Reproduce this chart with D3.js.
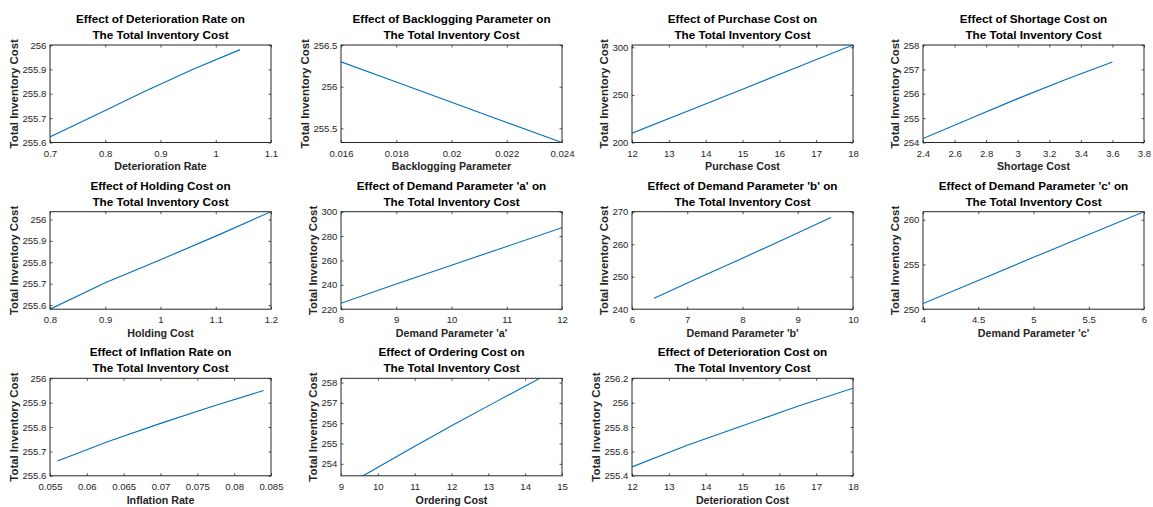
<!DOCTYPE html>
<html><head><meta charset="utf-8">
<script src="https://cdn.jsdelivr.net/npm/d3@7"></script>
<style>
body{margin:0;background:#fff;}
svg{display:block;font-family:"Liberation Sans",Arial,Helvetica,sans-serif;}
</style></head><body>
<svg id="chart" width="1153" height="507"></svg>
<script>
// ---- series values ----
const detRateX = [0.696, 0.783, 0.87, 0.957, 1.044];
const detRateY = [255.619, 255.713, 255.808, 255.898, 255.981];
const backlogX = [0.016, 0.018, 0.020, 0.022, 0.024];
const backlogY = [256.298, 256.055, 255.813, 255.571, 255.330];
const purchaseX = [12, 13.5, 15, 16.5, 18];
const purchaseY = [209.8, 232.9, 256.0, 279.2, 302.4];
const shortageX = [2.4, 2.7, 3.0, 3.3, 3.6];
const shortageY = [254.16, 254.98, 255.80, 256.57, 257.30];
const holdingX = [0.8, 0.9, 1.0, 1.1, 1.2];
const holdingY = [255.581, 255.704, 255.812, 255.922, 256.036];
const demandAX = [8, 9, 10, 11, 12];
const demandAY = [224.9, 240.6, 256.1, 271.5, 286.9];
const demandBX = [6.4, 7.2, 8.0, 8.8, 9.6];
const demandBY = [243.4, 249.6, 255.7, 261.9, 268.2];
const demandCX = [4, 4.5, 5, 5.5, 6];
const demandCY = [250.63, 253.2, 255.8, 258.35, 260.9];
const inflationX = [0.056, 0.063, 0.070, 0.077, 0.084];
const inflationY = [255.661, 255.742, 255.815, 255.884, 255.950];
const orderingX = [9.6, 10.8, 12.0, 13.2, 14.4];
const orderingY = [253.41, 254.66, 255.87, 257.05, 258.21];
const detCostX = [12, 13.5, 15, 16.5, 18];
const detCostY = [255.473, 255.65, 255.81, 255.97, 256.118];

// ---- categories / titles / labels ----
const titles = ["Effect of Deterioration Rate on", "Effect of Backlogging Parameter on", "Effect of Purchase Cost on", "Effect of Shortage Cost on",
  "Effect of Holding Cost on", "Effect of Demand Parameter 'a' on", "Effect of Demand Parameter 'b' on", "Effect of Demand Parameter 'c' on",
  "Effect of Inflation Rate on", "Effect of Ordering Cost on", "Effect of Deterioration Cost on"];
const titleLine2 = "The Total Inventory Cost";
const xLabels = ["Deterioration Rate", "Backlogging Parameter", "Purchase Cost", "Shortage Cost",
  "Holding Cost", "Demand Parameter 'a'", "Demand Parameter 'b'", "Demand Parameter 'c'",
  "Inflation Rate", "Ordering Cost", "Deterioration Cost"];
const yLabel = "Total Inventory Cost";

// ---- axis limits ----
const xLimits = [[0.7,1.1],[0.016,0.024],[12,18],[2.4,3.8],[0.8,1.2],[8,12],[6,10],[4,6],[0.055,0.085],[9,15],[12,18]];
const yLimits = [[255.6,256],[255.33,256.5],[200,302.4],[254,258],[255.581,256.036],[220,300],[240,270],[250,260.9],[255.6,256],[253.41,258.21],[255.4,256.2]];

// ---- tick labels ----
const xTicks = [
  [0.7,0.8,0.9,1,1.1],
  [0.016,0.018,0.02,0.022,0.024],
  [12,13,14,15,16,17,18],
  [2.4,2.6,2.8,3,3.2,3.4,3.6,3.8],
  [0.8,0.9,1,1.1,1.2],
  [8,9,10,11,12],
  [6,7,8,9,10],
  [4,4.5,5,5.5,6],
  [0.055,0.06,0.065,0.07,0.075,0.08,0.085],
  [9,10,11,12,13,14,15],
  [12,13,14,15,16,17,18]];
const yTicks = [
  [255.6,255.7,255.8,255.9,256],
  [255.5,256,256.5],
  [200,250,300],
  [254,255,256,257,258],
  [255.6,255.7,255.8,255.9,256],
  [220,240,260,280,300],
  [240,250,260,270],
  [250,255,260],
  [255.6,255.7,255.8,255.9,256],
  [254,255,256,257,258],
  [255.4,255.6,255.8,256,256.2]];

const seriesX = [detRateX, backlogX, purchaseX, shortageX, holdingX, demandAX, demandBX, demandCX, inflationX, orderingX, detCostX];
const seriesY = [detRateY, backlogY, purchaseY, shortageY, holdingY, demandAY, demandBY, demandCY, inflationY, orderingY, detCostY];

// ---- layout ----
const W = 221, H = 97.5;
const colX = [50, 341, 632, 923];
const rowY = [45, 211.7, 378.3];
const axisColor = "#262626";
const tickLen = 2.5;
const fmt = d => String(+d.toFixed(6));

const svg = d3.select("#chart");
svg.append("rect").attr("width",1153).attr("height",507).attr("fill","#fff");

titles.forEach((t, i) => {
  const c = i % 4, r = Math.floor(i / 4);
  const g = svg.append("g").attr("transform", `translate(${colX[c]},${rowY[r]})`);
  const x = d3.scaleLinear().domain(xLimits[i]).range([0, W]);
  const y = d3.scaleLinear().domain(yLimits[i]).range([H, 0]);

  g.append("rect").attr("width", W).attr("height", H).attr("fill", "#fff");

  g.append("clipPath").attr("id", "clip" + i)
    .append("rect").attr("width", W).attr("height", H);

  g.append("path")
    .datum(d3.zip(seriesX[i], seriesY[i]))
    .attr("clip-path", `url(#clip${i})`)
    .attr("fill", "none").attr("stroke", "#0072BD").attr("stroke-width", 1.1)
    .attr("d", d3.line().x(d => x(d[0])).y(d => y(d[1])));

  const styleAxis = sel => {
    sel.select(".domain").remove();
    sel.selectAll(".tick line").attr("stroke", axisColor).attr("stroke-width", 0.8);
    sel.selectAll(".tick text").attr("fill", axisColor).style("font-size", "9.6px");
  };

  g.append("g").attr("transform", `translate(0,${H})`)
    .call(d3.axisBottom(x).tickValues(xTicks[i]).tickFormat(fmt).tickSizeInner(-tickLen).tickSizeOuter(0).tickPadding(7.3))
    .call(styleAxis);
  g.append("g")
    .call(d3.axisTop(x).tickValues(xTicks[i]).tickFormat("").tickSizeInner(-tickLen).tickSizeOuter(0))
    .call(styleAxis);
  const ya = g.append("g")
    .call(d3.axisLeft(y).tickValues(yTicks[i]).tickFormat(fmt).tickSizeInner(-tickLen).tickSizeOuter(0).tickPadding(3.6))
    .call(styleAxis);
  g.append("g").attr("transform", `translate(${W},0)`)
    .call(d3.axisRight(y).tickValues(yTicks[i]).tickFormat("").tickSizeInner(-tickLen).tickSizeOuter(0))
    .call(styleAxis);

  g.append("rect").attr("width", W).attr("height", H)
    .attr("fill", "none").attr("stroke", axisColor).attr("stroke-width", 1);

  let maxW = 0;
  ya.selectAll(".tick text").each(function(){ maxW = Math.max(maxW, this.getComputedTextLength()); });

  g.append("text")
    .attr("transform", `translate(${-(3.6 + maxW + 4.6)},${H/2}) rotate(-90)`)
    .attr("text-anchor", "middle").attr("fill", axisColor)
    .style("font-size", "11.4px").style("font-weight", "bold")
    .text(yLabel);

  g.append("text")
    .attr("x", W/2).attr("y", H + 27.8)
    .attr("text-anchor", "middle").attr("fill", axisColor)
    .style("font-size", "10.7px").style("font-weight", "bold")
    .text(xLabels[i]);

  g.append("text").attr("x", W/2).attr("y", -22)
    .attr("text-anchor", "middle").attr("fill", "#000")
    .style("font-size", "11.7px").style("font-weight", "bold").text(t);
  g.append("text").attr("x", W/2).attr("y", -6)
    .attr("text-anchor", "middle").attr("fill", "#000")
    .style("font-size", "11.7px").style("font-weight", "bold").text(titleLine2);
});
</script>
</body></html>
